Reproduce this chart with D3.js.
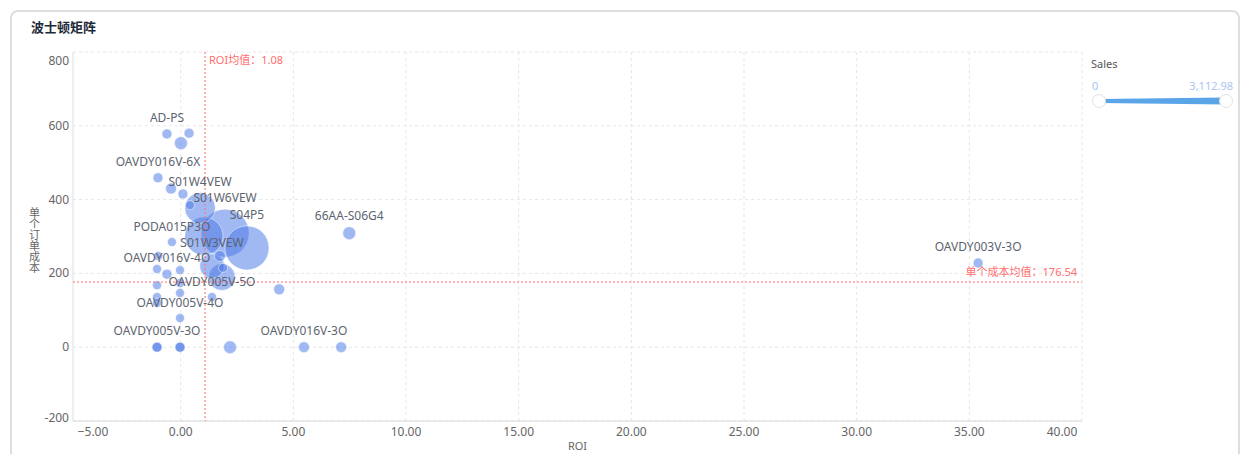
<!DOCTYPE html>
<html>
<head>
<meta charset="utf-8">
<script src="https://cdn.jsdelivr.net/npm/d3@7"></script>
<style>
  body { margin: 0; background: #fff; font-family: "Noto Sans", "Noto Sans CJK SC", sans-serif; }
  svg text { font-family: "Noto Sans", "Noto Sans CJK SC", sans-serif; }
</style>
</head>
<body>
<div id="chart"></div>
<script>
// product names (only some of them get a label in the chart)
var names = ["AD-PS", "", "", "OAVDY016V-6X", "", "", "", "S01W4VEW", "S01W6VEW", "",
    "S04P5", "66AA-S06G4", "PODA015P3O", "S01W3VEW", "", "", "", "OAVDY016V-4O", "", "",
    "", "", "", "", "", "OAVDY005V-5O", "OAVDY005V-4O", "OAVDY005V-3O", "", "",
    "", "", "OAVDY016V-3O", "", "", "OAVDY003V-3O", ""];
var roi = [-0.61, 0.37, 0.01, -1.01, -0.43, 0.10, 0.41, 0.86, 1.97, 1.03,
    2.94, 7.48, -0.39, 1.39, 1.83, 1.74, 1.88, -0.61, -1.05, -0.03,
    -1.05, -0.03, -0.03, -1.05, -1.05, 1.39, -0.03, -1.05, -1.05, -0.03,
    -0.03, 2.19, 5.47, 7.12, 4.37, 35.39, -1.0];
var cost = [578, 580, 553, 459, 430, 415, 385, 377, 309, 301,
    269, 309, 285, 220, 190, 247, 215, 198, 212, 209,
    168, 174, 147, 136, 120, 136, 79, 0, 0, 0,
    0, 0, 0, 0, 157, 228, 247];
var sales = [78, 78, 311, 78, 156, 78, 0, 1712, 3112.98, 2335,
    2802, 311, 0, 1245, 1401, 156, 0, 78, 0, 0,
    0, 0, 0, 0, 0, 0, 0, 78, 78, 78,
    78, 311, 156, 156, 156, 78, 0];

var xTicks = [-5, 0, 5, 10, 15, 20, 25, 30, 35, 40];
var yTicks = [-200, 0, 200, 400, 600, 800];
var roiMean = 1.08;
var costMean = 176.54;
var salesMax = 3112.98;

var W = 1249, H = 454;
var pL = 73, pR = 1082, pT = 52, pB = 421;
var red = "#ff6e6e";
var dot = "#4a78e6";

var svg = d3.select("#chart").append("svg")
    .attr("width", W)
    .attr("height", H);

// card
svg.append("rect")
    .attr("x", 11).attr("y", 11)
    .attr("width", 1228).attr("height", 470)
    .attr("rx", 7)
    .attr("fill", "#fff")
    .attr("stroke", "#dedede")
    .attr("stroke-width", 2);

svg.append("text")
    .attr("x", 31).attr("y", 32)
    .attr("font-size", 13)
    .attr("font-weight", "bold")
    .attr("fill", "#1d2a3a")
    .text("波士顿矩阵");

var x = d3.scaleLinear().domain([-4.78, 40]).range([pL, pR]);
var y = d3.scaleLinear().domain([-200, 800]).range([pB, pT]);
var r = d3.scaleLinear().domain([0, salesMax]).range([4.5, 24]);

// grid
svg.append("g").selectAll("line")
    .data(xTicks.filter(function (d) { return x(d) >= pL; }))
    .enter()
    .append("line")
    .attr("x1", function (d) { return x(d); })
    .attr("x2", function (d) { return x(d); })
    .attr("y1", pT).attr("y2", pB)
    .attr("stroke", "#e6e6e6")
    .attr("stroke-dasharray", "3,3");

svg.append("g").selectAll("line")
    .data(yTicks)
    .enter()
    .append("line")
    .attr("x1", pL).attr("x2", pR)
    .attr("y1", function (d) { return y(d); })
    .attr("y2", function (d) { return y(d); })
    .attr("stroke", "#e6e6e6")
    .attr("stroke-dasharray", "3,3");

// axis lines
svg.append("line")
    .attr("x1", pL).attr("x2", pL)
    .attr("y1", pT).attr("y2", pB)
    .attr("stroke", "#e0e0e0");
svg.append("line")
    .attr("x1", pL).attr("x2", pR)
    .attr("y1", pB).attr("y2", pB)
    .attr("stroke", "#d8d8d8");

// tick labels (kept inside the plot range like the original)
svg.append("g").selectAll("text")
    .data(xTicks)
    .enter()
    .append("text")
    .attr("x", function (d) { return Math.min(Math.max(x(d), pL + 20), pR - 20); })
    .attr("y", pB + 15)
    .attr("text-anchor", "middle")
    .attr("font-size", 12)
    .attr("fill", "#666")
    .text(function (d) { return d3.format(".2f")(d); });

svg.append("g").selectAll("text")
    .data(yTicks)
    .enter()
    .append("text")
    .attr("x", pL - 4)
    .attr("y", function (d) { return Math.min(Math.max(y(d), pT + 9), pB - 3) + 4; })
    .attr("text-anchor", "end")
    .attr("font-size", 12)
    .attr("fill", "#666")
    .text(function (d) { return d; });

svg.append("text")
    .attr("x", (pL + pR) / 2)
    .attr("y", 450)
    .attr("text-anchor", "middle")
    .attr("font-size", 11)
    .attr("fill", "#666")
    .text("ROI");

// vertical y title
svg.append("text")
    .attr("x", 34)
    .attr("y", 207)
    .attr("writing-mode", "tb")
    .style("text-orientation", "upright")
    .attr("font-size", 11)
    .attr("fill", "#666")
    .text("单个订单成本");

// bubbles
var points = names.map(function (n, i) {
    return { name: n, roi: roi[i], cost: cost[i], sales: sales[i] };
});
var sorted = points.slice().sort(function (a, b) { return b.sales - a.sales; });

svg.append("g").selectAll("circle")
    .data(sorted)
    .enter()
    .append("circle")
    .attr("cx", function (d) { return x(d.roi); })
    .attr("cy", function (d) { return y(d.cost); })
    .attr("r", function (d) { return r(d.sales); })
    .attr("fill", dot)
    .attr("fill-opacity", 0.52)
    .attr("stroke", "#fff")
    .attr("stroke-opacity", 0.6)
    .attr("stroke-width", 0.8);

// mean lines
svg.append("line")
    .attr("x1", x(roiMean)).attr("x2", x(roiMean))
    .attr("y1", pT).attr("y2", pB)
    .attr("stroke", red)
    .attr("stroke-dasharray", "2,2");
svg.append("line")
    .attr("x1", pL).attr("x2", pR)
    .attr("y1", y(costMean)).attr("y2", y(costMean))
    .attr("stroke", red)
    .attr("stroke-dasharray", "2,2");

svg.append("text")
    .attr("x", x(roiMean) + 4)
    .attr("y", pT + 12)
    .attr("font-size", 11)
    .attr("fill", red)
    .text("ROI均值：" + roiMean);
svg.append("text")
    .attr("x", pR - 5)
    .attr("y", y(costMean) - 6)
    .attr("text-anchor", "end")
    .attr("font-size", 11)
    .attr("fill", red)
    .text("单个成本均值：" + costMean);

// bubble labels
svg.append("g").selectAll("text")
    .data(points.filter(function (d) { return d.name !== ""; }))
    .enter()
    .append("text")
    .attr("x", function (d) { return x(d.roi); })
    .attr("y", function (d) { return y(d.cost) - r(d.sales) - 7; })
    .attr("text-anchor", "middle")
    .attr("font-size", 12)
    .attr("fill", "#5d6470")
    .text(function (d) { return d.name; });

// sales legend
var lx = d3.scaleLinear().domain([0, salesMax]).range([1099, 1226]);
var ly = 101;

svg.append("text")
    .attr("x", 1091).attr("y", 68)
    .attr("font-size", 11)
    .attr("fill", "#555")
    .text("Sales");
svg.append("text")
    .attr("x", 1092).attr("y", 90)
    .attr("font-size", 11)
    .attr("fill", "#a9c6ee")
    .text(d3.format(",")(0));
svg.append("text")
    .attr("x", 1233).attr("y", 90)
    .attr("text-anchor", "end")
    .attr("font-size", 11)
    .attr("fill", "#a9c6ee")
    .text(d3.format(",.2f")(salesMax));

svg.append("path")
    .attr("d", "M" + lx(0) + "," + (ly - 2) + "L" + lx(salesMax) + "," + (ly - 3.5) +
        "L" + lx(salesMax) + "," + (ly + 3.5) + "L" + lx(0) + "," + (ly + 2) + "Z")
    .attr("fill", "#5aa5e8");

svg.append("g").selectAll("circle")
    .data([0, salesMax])
    .enter()
    .append("circle")
    .attr("cx", function (d) { return lx(d); })
    .attr("cy", ly)
    .attr("r", 6.5)
    .attr("fill", "#fff")
    .attr("stroke", "#e2e2e2");
</script>
</body>
</html>
